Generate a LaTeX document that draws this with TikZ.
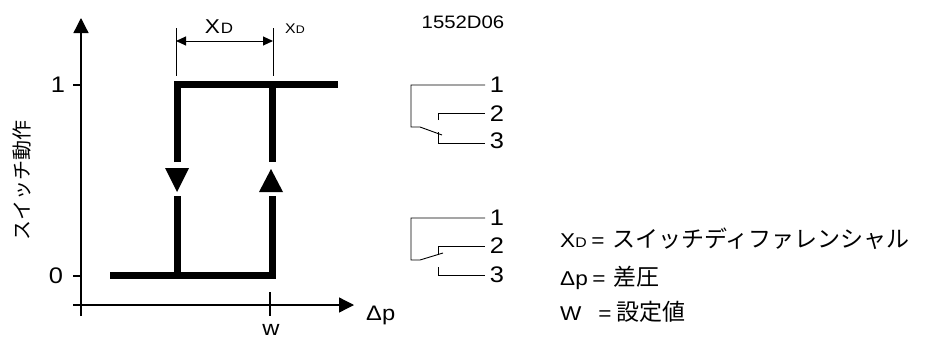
\documentclass[tikz,border=0pt]{standalone}
\usepackage{fontspec}
\setmainfont[FakeStretch=1.13]{Liberation Sans}
\newfontfamily\jp{Noto Sans CJK JP}
\usetikzlibrary{arrows.meta}
\newcommand\setfs[1]{\fontsize{#1}{#1}\selectfont}
\begin{document}
\begin{tikzpicture}[x=1pt,y=-1pt,
  stepline/.style={line width=7pt,line join=miter,line cap=butt},
  axisline/.style={line width=1.3pt},
  thinline/.style={line width=1pt},
  swline/.style={line width=0.9pt},
  lbl/.style={inner sep=0pt,font=\setfs{22.5}},
  bigtip/.style={-{Triangle[length=15pt,width=15pt]}},
  dimtip/.style={{Triangle[length=10pt,width=9pt]}-{Triangle[length=10pt,width=9pt]}}]
\useasboundingbox (0,0) rectangle (933,340);
% axes
\coordinate (yb) at (81,316); \coordinate (yt) at (81,18);
\draw[axisline,bigtip] (yb) -- (yt);
\coordinate (xl) at (73,305); \coordinate (xr) at (354,305);
\draw[axisline,bigtip] (xl) -- (xr);
\coordinate (t1a) at (73,85); \coordinate (t1b) at (81,85);
\coordinate (t0a) at (73,276); \coordinate (t0b) at (81,276);
\coordinate (twa) at (270,292); \coordinate (twb) at (270,316);
\draw[axisline] (t1a) -- (t1b) (t0a) -- (t0b) (twa) -- (twb);
\node[lbl] (one) at (58,85) {1};
\node[lbl] (zero) at (56,276) {0};
\node[lbl,anchor=north,font=\setfs{21}] (w) at (271,324) {w};
\node[lbl,anchor=base west,font=\setfs{21}] (dp) at (366,320) {Δp};
\node[inner sep=0pt,rotate=90,font=\jp\setfs{20}] (ylab) at (22,180) {スイッチ動作};
% hysteresis
\coordinate (a1) at (177,162); \coordinate (a2) at (177,84.5); \coordinate (a3) at (338,84.5);
\coordinate (b1) at (272,84.5); \coordinate (b2) at (272,162);
\coordinate (c1) at (177,196); \coordinate (c2) at (177,275.5);
\coordinate (d1) at (110,275.5); \coordinate (d2) at (272,275.5); \coordinate (d3) at (272,196);
\draw[stepline] (a1) -- (a2) -- (a3);
\draw[stepline] (b1) -- (b2);
\draw[stepline] (c1) -- (c2);
\draw[stepline] (d1) -- (d2) -- (d3);
\fill (165,168) -- (189,168) -- (177,192) -- cycle;
\fill (259,192) -- (283,192) -- (271,169) -- cycle;
% dimension
\coordinate (e1t) at (176,28); \coordinate (e1b) at (176,76);
\coordinate (e2t) at (273,28); \coordinate (e2b) at (273,76);
\draw[thinline] (e1t) -- (e1b) (e2t) -- (e2b);
\coordinate (m1) at (176,41); \coordinate (m2) at (273,41);
\draw[thinline,dimtip] (m1) -- (m2);
\node[inner sep=0pt,anchor=base] (xd1) at (219,33) {\setfs{20}X\kern1pt{\setfs{15}D}};
\node[inner sep=0pt,anchor=base west] (xd2) at (285,33) {\setfs{14}X{\setfs{11}D}};
\node[inner sep=0pt,font=\setfs{18}] (code) at (463,22) {1552D06};
% switch 1
\draw[swline] (485,85) -- (411,85) -- (411,127) -- (420,127) -- (442,135);
\draw[swline] (438,120) -- (438,113) -- (485,113);
\draw[swline] (438,132) -- (438,143) -- (485,143);
\node[lbl] (s11) at (497,85) {1};
\node[lbl] (s12) at (497,114) {2};
\node[lbl] (s13) at (497,141) {3};
% switch 2
\draw[swline] (485,218) -- (411,218) -- (411,260) -- (420,260) -- (443,253);
\draw[swline] (438,255) -- (438,246) -- (485,246);
\draw[swline] (438,267) -- (438,275) -- (485,275);
\node[lbl] (s21) at (497,218) {1};
\node[lbl] (s22) at (497,246) {2};
\node[lbl] (s23) at (497,275) {3};
% legend
\node[inner sep=0pt,anchor=base west] (l1a) at (560,247) {\setfs{20}X{\setfs{14}D}};
\node[inner sep=0pt,anchor=base] (l1b) at (598,247) {\setfs{20}=};
\node[inner sep=0pt,anchor=base west,font=\jp\setfs{23}] (l1c) at (612,247) {スイッチディファレンシャル};
\node[inner sep=0pt,anchor=base west] (l2a) at (560,285) {\setfs{20}Δp};
\node[inner sep=0pt,anchor=base] (l2b) at (599,285) {\setfs{20}=};
\node[inner sep=0pt,anchor=base west,font=\jp\setfs{23}] (l2c) at (613,285) {差圧};
\node[inner sep=0pt,anchor=base west] (l3a) at (560,320) {\setfs{20}W};
\node[inner sep=0pt,anchor=base] (l3b) at (605,320) {\setfs{20}=};
\node[inner sep=0pt,anchor=base west,font=\jp\setfs{23}] (l3c) at (616,320) {設定値};
\end{tikzpicture}
\end{document}
